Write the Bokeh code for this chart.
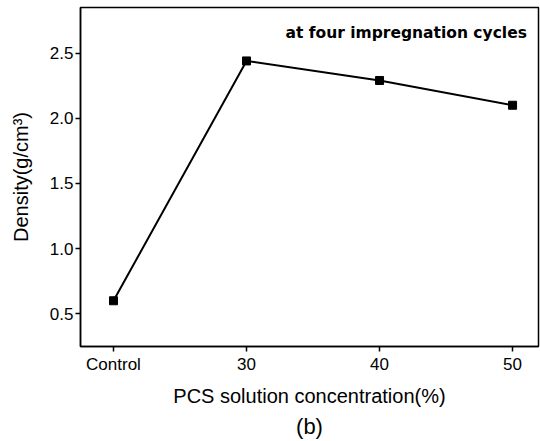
from bokeh.plotting import figure
from bokeh.models import Range1d, Label, Title, FixedTicker
from bokeh.embed import file_html
from bokeh.resources import INLINE

categories = ["Control", "30", "40", "50"]
positions = [0, 1, 2, 3]
density = [0.60, 2.44, 2.29, 2.10]
y_ticks = [0.5, 1.0, 1.5, 2.0, 2.5]

p = figure(width=540, height=441, output_backend="svg", toolbar_location=None,
           x_range=Range1d(-0.248, 3.195), y_range=Range1d(0.249, 2.850),
           min_border_left=80, min_border_right=2, min_border_top=7, min_border_bottom=92)
p.grid.visible = False
p.outline_line_color = "black"
p.outline_line_width = 1.5
p.background_fill_color = "white"
p.border_fill_color = "white"

p.line(positions, density, line_color="black", line_width=2)
p.scatter(positions, density, marker="square", size=8, fill_color="black", line_color="black")

for ax in (p.xaxis, p.yaxis):
    ax.axis_line_color = "black"
    ax.axis_line_width = 1.5
    ax.major_tick_line_color = "black"
    ax.major_tick_line_width = 1.5
    ax.major_tick_in = 0
    ax.major_tick_out = 5
    ax.minor_tick_line_color = None
    ax.major_label_text_font = "Liberation Sans"
    ax.major_label_text_font_size = "17px"
    ax.major_label_text_color = "black"
    ax.axis_label_text_font = "Liberation Sans"
    ax.axis_label_text_font_size = "20px"
    ax.axis_label_text_font_style = "normal"
    ax.axis_label_text_color = "black"

p.xaxis.ticker = FixedTicker(ticks=positions)
p.xaxis.major_label_overrides = {pos: c for pos, c in zip(positions, categories)}
p.xaxis.axis_label = "PCS solution concentration(%)"
p.xaxis.major_label_standoff = 3
p.xaxis.axis_label_standoff = 8

p.yaxis.ticker = FixedTicker(ticks=y_ticks)
p.yaxis.major_label_overrides = {t: f"{t:.1f}" for t in y_ticks}
p.yaxis.axis_label = "Density(g/cm³)"
p.yaxis.major_label_standoff = 2
p.yaxis.axis_label_standoff = 15

p.add_layout(Label(x=205, y=314, x_units="screen", y_units="screen",
                   text="at four impregnation cycles", text_font="DejaVu Sans",
                   text_font_style="bold", text_font_size="15.5px", text_color="black",
                   text_baseline="alphabetic"))

p.add_layout(Title(text="(b)", align="center", text_font="Liberation Sans",
                   text_font_size="22px", text_font_style="normal", text_color="black",
                   standoff=5), "below")

open("out.html", "w").write(file_html(p, INLINE))
